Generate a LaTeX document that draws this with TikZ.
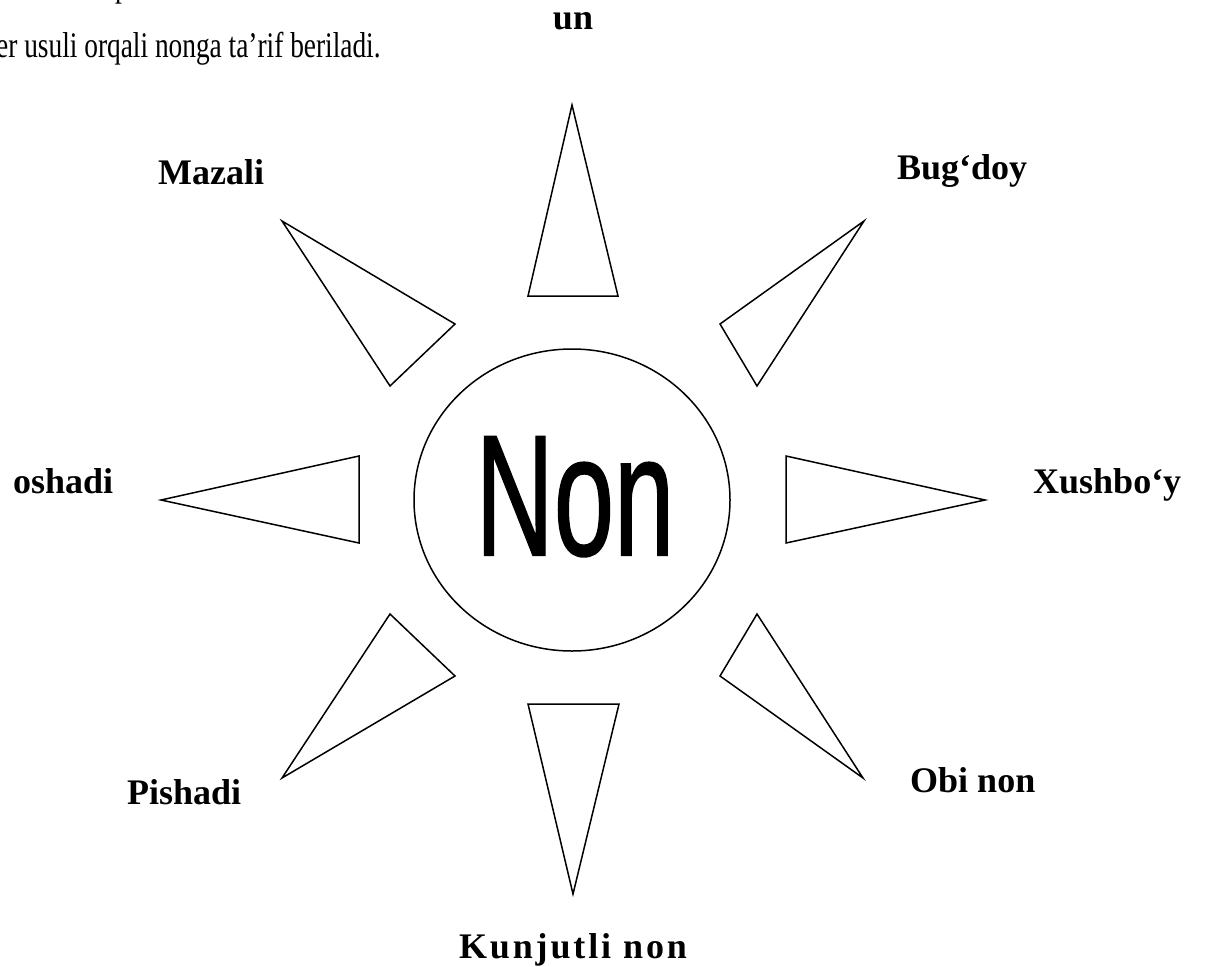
\documentclass[tikz,border=0pt]{standalone}
\usepackage{fontspec}
\usepackage{graphicx}
\setmainfont{Liberation Serif}
\newfontfamily\arialfont[FakeBold=1.2]{Liberation Sans}
\begin{document}
\begin{tikzpicture}[x=1pt,y=-1pt,
  tri/.style={draw=black,line width=1.5pt,line join=miter},
  lbl/.style={inner sep=0pt,font=\fontsize{36}{40}\selectfont\bfseries},
  body/.style={inner sep=0pt,font=\fontsize{36}{40}\selectfont}]
\useasboundingbox (0,0) rectangle (1206,966);
\begin{scope}
\clip (0,0) rectangle (1206,966);
\node[body,anchor=base west] (frag) at (115,-3) {\scalebox{0.76}[1]{p}};
\node[body,anchor=base west] (line) at (-4,57) {\scalebox{0.76}[1]{er usuli orqali nonga ta’rif beriladi.}};
\end{scope}
\node[lbl,anchor=base] (un) at (573,30) {un};
% centre
\draw[tri] (572,500) ellipse [x radius=158, y radius=151];
\node[inner sep=0pt,anchor=base] (non) at (575,555) {\scalebox{0.63}[1]{\arialfont\fontsize{172}{180}\selectfont Non}};
% triangles
\draw[tri] (572,105) -- (618,296) -- (528,296) -- cycle;
\draw[tri] (282,221) -- (455,324) -- (390,386) -- cycle;
\draw[tri] (864,221) -- (757,386) -- (720,324) -- cycle;
\draw[tri] (161,500) -- (359,456) -- (359,543) -- cycle;
\draw[tri] (985,500) -- (786,456) -- (786,543) -- cycle;
\draw[tri] (573,894) -- (528,704) -- (619,704) -- cycle;
\draw[tri] (282,778) -- (390,614) -- (455,676) -- cycle;
\draw[tri] (863,778) -- (757,614) -- (720,676) -- cycle;
% labels
\node[lbl,anchor=base west] (mazali) at (158,184) {Mazali};
\node[lbl,anchor=base west] (bugdoy) at (897,179) {Bug‘doy};
\node[lbl,anchor=base west] (oshadi) at (13,493) {oshadi};
\node[lbl,anchor=base west] (xushboy) at (1033,493) {Xushbo‘y};
\node[lbl,anchor=base west] (pishadi) at (127,804) {Pishadi};
\node[lbl,anchor=base west] (obinon) at (910,792) {Obi non};
\node[lbl,anchor=base] (kunjut) at (573,958) {\addfontfeature{LetterSpace=8}Kunjutli non};
\end{tikzpicture}
\end{document}
